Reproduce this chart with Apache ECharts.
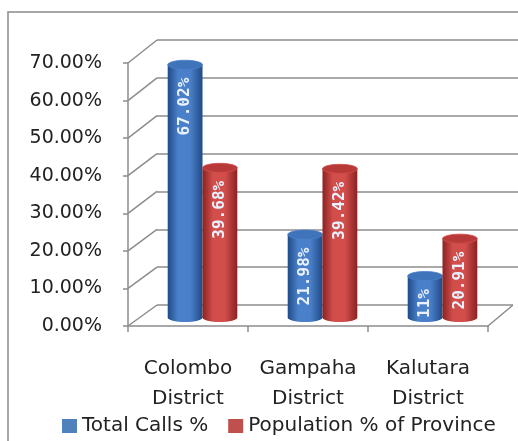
<!DOCTYPE html>
<html>
<head>
<meta charset="utf-8">
<script src="https://cdn.jsdelivr.net/npm/echarts@6/dist/echarts.min.js"></script>
<style>
  html, body { margin: 0; padding: 0; background: #fff; }
  #chart { width: 518px; height: 441px; }
</style>
</head>
<body>
<div id="chart"></div>
<script>
// Share of calls vs. share of provincial population, by district
const districts = ['Colombo\nDistrict', 'Gampaha\nDistrict', 'Kalutara\nDistrict'];
const totalCalls = [67.02, 21.98, 11];
const population = [39.68, 39.42, 20.91];
const seriesNames = ['Total Calls %', 'Population % of Province'];
const yTicks = [0, 10, 20, 30, 40, 50, 60, 70];

const FONT = 'DejaVu Sans';
const LINE = '#8c8c8c';
const TEXT = '#222';

// Layout of the three planes of the pseudo-3D box
const FRONT = { left: 128, top: 63, width: 360, height: 263 };
const BACK = { left: 157, top: 40, width: 400, height: 265 };
const MID = { left: 142.5, top: 53.5, width: 360, height: 264 };

const palettes = [
  { edge: '#1f4a86', mid: '#4a80c9', cap: '#3f73ba', legend: '#4f81bd' },
  { edge: '#8a2222', mid: '#d24e4b', cap: '#b83a38', legend: '#c0504d' }
];

function cylinder(idx) {
  return function (params, api) {
    const c = api.value(0);
    const v = api.value(1);
    const top = api.coord([c, v]);
    const base = api.coord([c, 0]);
    const band = api.size([1, 0])[0];
    const w = band * 0.29;
    const rx = w / 2;
    const ry = 4.5;
    const cx = top[0] + (idx === 0 ? -rx : rx);
    const p = palettes[idx];
    const body = new echarts.graphic.LinearGradient(0, 0, 1, 0, [
      { offset: 0, color: p.edge },
      { offset: 0.3, color: p.mid },
      { offset: 0.65, color: p.mid },
      { offset: 1, color: p.edge }
    ]);
    return {
      type: 'group',
      children: [
        { type: 'ellipse', shape: { cx: cx, cy: base[1], rx: rx, ry: ry }, style: { fill: body } },
        { type: 'rect', shape: { x: cx - rx, y: top[1], width: w, height: base[1] - top[1] }, style: { fill: body } },
        { type: 'ellipse', shape: { cx: cx, cy: top[1], rx: rx, ry: ry },
          style: { fill: p.cap, stroke: p.mid, lineWidth: 0.8 } },
        { type: 'text', x: cx, y: top[1] + 13, rotation: Math.PI / 2,
          style: { text: v + '%', fill: '#eaf2ff', font: 'bold 16px "DejaVu Sans Mono"',
                   align: 'right', verticalAlign: 'middle' } }
      ]
    };
  };
}

const chart = echarts.init(document.getElementById('chart'), null, { renderer: 'canvas' });

const backSplitColors = yTicks.map(function (t) { return t === 0 ? 'rgba(0,0,0,0)' : LINE; });

chart.setOption({
  animation: false,
  backgroundColor: '#fff',
  grid: [
    Object.assign({ containLabel: false }, FRONT),
    Object.assign({ containLabel: false }, BACK),
    Object.assign({ containLabel: false }, MID)
  ],
  legend: {
    left: 62,
    top: 416,
    padding: 0,
    itemWidth: 15,
    itemHeight: 14,
    itemGap: 20,
    icon: 'rect',
    textStyle: { fontFamily: FONT, fontSize: 20, color: TEXT },
    data: [
      { name: seriesNames[0], itemStyle: { color: palettes[0].legend } },
      { name: seriesNames[1], itemStyle: { color: palettes[1].legend } }
    ]
  },
  xAxis: [
    {
      gridIndex: 0, type: 'category', data: districts, boundaryGap: true,
      axisLine: { show: true, lineStyle: { color: LINE, width: 1.5 } },
      axisTick: { show: true, length: 6, lineStyle: { color: LINE, width: 1.5 } },
      axisLabel: { interval: 0, fontFamily: FONT, fontSize: 20, lineHeight: 30, margin: 28, color: TEXT }
    },
    { gridIndex: 1, type: 'category', data: districts, show: false },
    { gridIndex: 2, type: 'category', data: districts, show: false }
  ],
  yAxis: [
    {
      gridIndex: 0, type: 'value', min: 0, max: 70, interval: 10,
      axisLine: { show: true, lineStyle: { color: LINE, width: 1.5 } },
      axisTick: { show: true, length: 5, lineStyle: { color: LINE, width: 1.5 } },
      axisLabel: {
        fontFamily: FONT, fontSize: 19, margin: 26, color: TEXT,
        formatter: function (v) { return v.toFixed(2) + '%'; }
      },
      splitLine: { show: false }
    },
    {
      gridIndex: 1, type: 'value', min: 0, max: 70, interval: 10,
      axisLine: { show: false }, axisTick: { show: false }, axisLabel: { show: false },
      splitLine: { show: true, lineStyle: { color: backSplitColors, width: 1.5 } }
    },
    { gridIndex: 2, type: 'value', min: 0, max: 70, interval: 10, show: false, splitLine: { show: false } }
  ],
  series: [
    {
      name: seriesNames[0], type: 'custom', xAxisIndex: 2, yAxisIndex: 2,
      itemStyle: { color: palettes[0].legend },
      encode: { x: 0, y: 1 },
      renderItem: cylinder(0),
      data: totalCalls.map(function (v, i) { return [i, v]; }),
      z: 5
    },
    {
      name: seriesNames[1], type: 'custom', xAxisIndex: 2, yAxisIndex: 2,
      itemStyle: { color: palettes[1].legend },
      encode: { x: 0, y: 1 },
      renderItem: cylinder(1),
      data: population.map(function (v, i) { return [i, v]; }),
      z: 5
    }
  ]
});

// Depth lines joining the front value axis to the back wall, the floor, and the outer frame
const lineStyle = { stroke: LINE, lineWidth: 1.5 };
const extras = [
  { type: 'rect', shape: { x: 8, y: 12, width: 700, height: 700 },
    style: { fill: null, stroke: '#8a8a8a', lineWidth: 1.5 }, z: 0, silent: true }
];
yTicks.forEach(function (t) {
  const yf = chart.convertToPixel({ yAxisIndex: 0 }, t);
  const yb = chart.convertToPixel({ yAxisIndex: 1 }, t);
  extras.push({ type: 'line', shape: { x1: FRONT.left, y1: yf, x2: BACK.left, y2: yb }, style: lineStyle, z: 0, silent: true });
});
const yb0 = chart.convertToPixel({ yAxisIndex: 1 }, 0);
const floorRight = FRONT.left + FRONT.width;
const floorFront = FRONT.top + FRONT.height;
extras.push({ type: 'line', shape: { x1: BACK.left, y1: yb0, x2: floorRight + 25, y2: yb0 }, style: lineStyle, z: 0, silent: true });
extras.push({ type: 'line', shape: { x1: floorRight + 25, y1: yb0, x2: floorRight, y2: floorFront }, style: lineStyle, z: 0, silent: true });

chart.setOption({ graphic: extras });
</script>
</body>
</html>
